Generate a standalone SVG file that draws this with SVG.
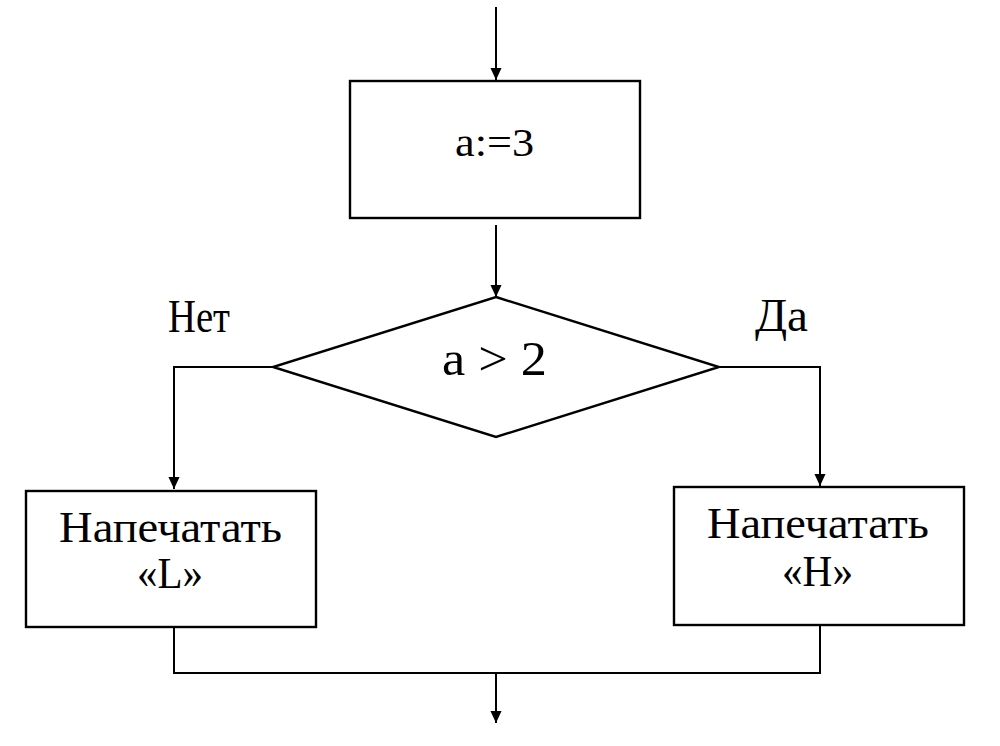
<svg xmlns="http://www.w3.org/2000/svg" width="1000" height="746" viewBox="0 0 1000 746">
<style>
.box{fill:#fff;stroke:#000;stroke-width:2.4}
.ln{fill:none;stroke:#000;stroke-width:2}
</style>
<defs>
<marker id="ah" markerUnits="userSpaceOnUse" markerWidth="12" markerHeight="14" refX="13" refY="6" orient="auto" viewBox="0 0 13 12">
<path d="M0,0 L13,6 L0,12 z" fill="#000"/>
</marker>
</defs>
<rect width="1000" height="746" fill="#fff"/>
<g id="connectors">
<line class="ln" x1="496" y1="7" x2="496" y2="80" marker-end="url(#ah)"/>
<line class="ln" x1="496" y1="225" x2="496" y2="297" marker-end="url(#ah)"/>
<polyline class="ln" points="273,367 174,367 174,489" marker-end="url(#ah)"/>
<polyline class="ln" points="719,367 820,367 820,486" marker-end="url(#ah)"/>
<polyline class="ln" points="174,627 174,673 820,673 820,625"/>
<line class="ln" x1="496" y1="673" x2="496" y2="723" marker-end="url(#ah)"/>
</g>
<g font-family="Liberation Serif, Times New Roman, serif" fill="#000">
<g id="labels">
<text x="168" y="332" font-size="46" textLength="62" lengthAdjust="spacingAndGlyphs">Нет</text>
<text x="755" y="331" font-size="46" textLength="53" lengthAdjust="spacingAndGlyphs">Да</text>
</g>
<g id="assign">
<rect class="box" x="350" y="81" width="290" height="137"/>
<text x="455" y="156" font-size="39" textLength="79" lengthAdjust="spacingAndGlyphs">a:=3</text>
</g>
<g id="decision">
<polygon class="box" points="496,297 719,367 496,437 273,367"/>
<text x="442" y="375" font-size="48" textLength="105" lengthAdjust="spacingAndGlyphs">a &gt; 2</text>
</g>
<g id="printL">
<rect class="box" x="26" y="491" width="290" height="136"/>
<text x="59" y="542" font-size="45" textLength="223" lengthAdjust="spacingAndGlyphs">Напечатать</text>
<text x="137" y="588" font-size="45" textLength="66" lengthAdjust="spacingAndGlyphs">«L»</text>
</g>
<g id="printH">
<rect class="box" x="674" y="487" width="290" height="138"/>
<text x="707" y="538" font-size="45" textLength="222" lengthAdjust="spacingAndGlyphs">Напечатать</text>
<text x="782" y="586" font-size="45" textLength="71" lengthAdjust="spacingAndGlyphs">«H»</text>
</g>
</g>
</svg>
